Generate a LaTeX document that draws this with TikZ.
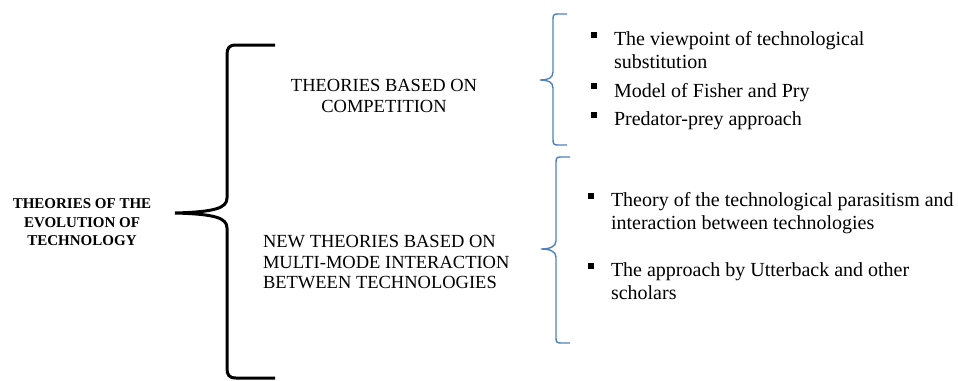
\documentclass[tikz,border=0pt]{standalone}
\usepackage{fontspec}
\setmainfont{Liberation Serif}
\usetikzlibrary{positioning}
\definecolor{braceblue}{RGB}{79,129,189}

\begin{document}
\begin{tikzpicture}[x=1pt,y=-1pt]
\tikzset{
  every node/.style={inner sep=0pt, outer sep=0pt},
  rootlabel/.style={font=\fontsize{15}{18.5}\selectfont\bfseries, align=center, anchor=north},
  grouplabel/.style={font=\fontsize{18.5}{20.8}\selectfont},
  itemtext/.style={font=\fontsize{20}{22.8}\selectfont, align=left, anchor=north west},
  itembullet/.style={fill=black, minimum size=6pt},
  bigbrace/.style={black, line width=3pt},
  smallbrace/.style={braceblue, line width=1.4pt}
}
\useasboundingbox (0,0) rectangle (958,380);

\node[rootlabel] (root) at (82,199) {THEORIES OF THE\\EVOLUTION OF\\TECHNOLOGY};
\node[grouplabel, align=center, anchor=north] (comp) at (384,79.5) {THEORIES BASED ON\\COMPETITION};
\node[grouplabel, align=left, anchor=north west] (multi) at (263,235) {NEW THEORIES BASED ON\\MULTI-MODE INTERACTION\\BETWEEN TECHNOLOGIES};

\node[itemtext] (subst) at (614,31.5) {The viewpoint of technological\\substitution};
\node[itemtext] (fisher) at (614,83) {Model of Fisher and Pry};
\node[itemtext] (predator) at (614,111.5) {Predator-prey approach};
\node[itemtext] (parasit) at (611,192.5) {Theory of the technological parasitism and\\interaction between technologies};
\node[itemtext] (utterback) at (611,263) {The approach by Utterback and other\\scholars};

\node[itembullet, left=17pt of subst.north west, yshift=-3pt] (b1) {};
\node[itembullet, left=17pt of fisher.north west, yshift=-3pt] (b2) {};
\node[itembullet, left=17pt of predator.north west, yshift=-3pt] (b3) {};
\node[itembullet, left=17pt of parasit.north west, yshift=-3pt] (b4) {};
\node[itembullet, left=17pt of utterback.north west, yshift=-3pt] (b5) {};

\draw[bigbrace] (275,45) -- (236,45) .. controls (229,45) and (227,48) .. (227,55) -- (227,198)
  .. controls (227,208) and (215,212) .. (175,213) .. controls (215,214) and (227,218) .. (227,228)
  -- (227,368) .. controls (227,375) and (229,378) .. (236,378) -- (275,378);

\draw[smallbrace] (567,14) -- (558,14) .. controls (554,14) and (553,15) .. (553,19) -- (553,72)
  .. controls (553,78) and (548,80) .. (540,80) .. controls (548,80) and (553,82) .. (553,88)
  -- (553,140) .. controls (553,144) and (554,145) .. (558,145) -- (567,145);
\draw[smallbrace] (570,157) -- (561,157) .. controls (557,157) and (556,158) .. (556,162) -- (556,241)
  .. controls (556,247) and (549,249) .. (541,249) .. controls (549,249) and (556,251) .. (556,257)
  -- (556,338) .. controls (556,342) and (557,343) .. (561,343) -- (570,343);
\end{tikzpicture}
\end{document}
